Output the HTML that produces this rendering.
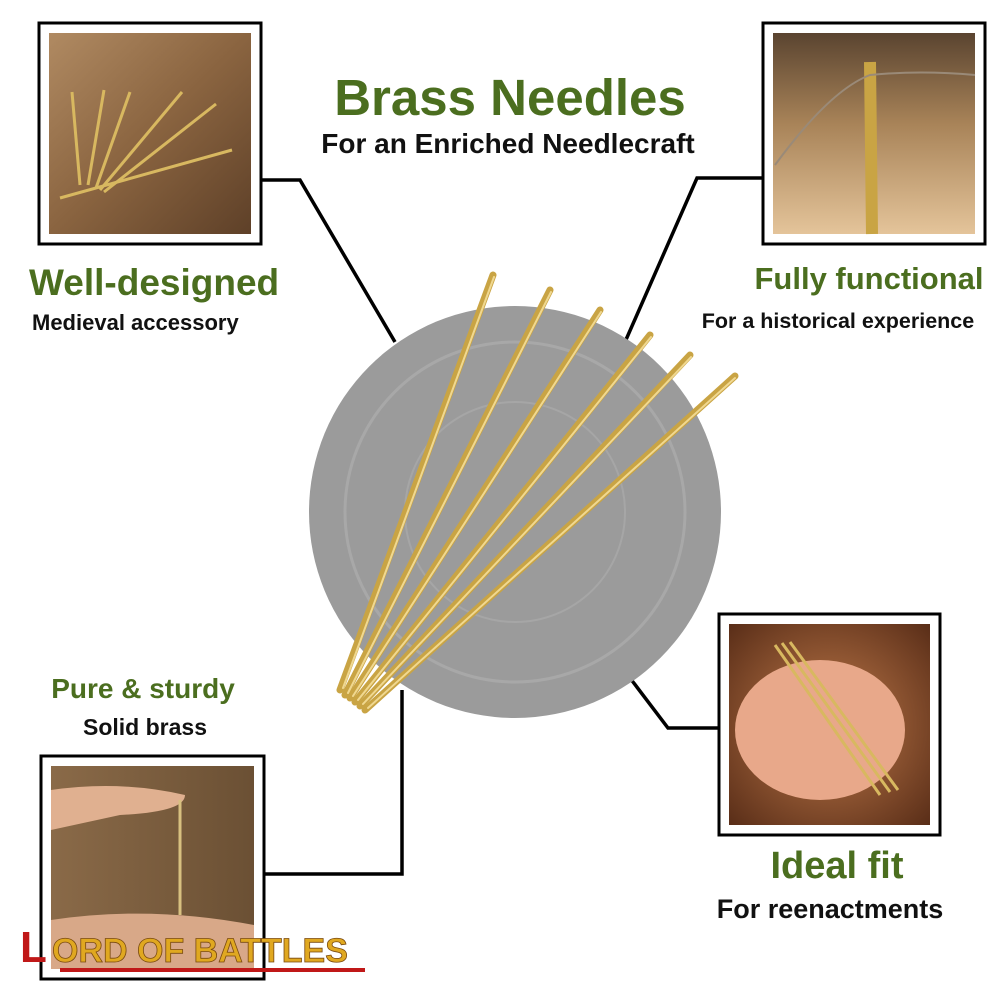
<!DOCTYPE html>
<html><head><meta charset="utf-8"><style>
html,body{margin:0;padding:0;background:#fff;}
svg{display:block;}
text{font-family:"Liberation Sans",sans-serif;font-weight:bold;}
</style></head><body>
<svg width="1000" height="1000" viewBox="0 0 1000 1000" xmlns="http://www.w3.org/2000/svg">
<defs>
<linearGradient id="p1" x1="0" y1="0" x2="1" y2="1"><stop offset="0" stop-color="#b08a62"/><stop offset="0.5" stop-color="#8a6440"/><stop offset="1" stop-color="#5e4028"/></linearGradient>
<linearGradient id="p2" x1="0" y1="0" x2="0" y2="1"><stop offset="0" stop-color="#5a4430"/><stop offset="0.45" stop-color="#a88358"/><stop offset="1" stop-color="#e4c49a"/></linearGradient>
<radialGradient id="p3" cx="0.5" cy="0.5" r="0.7"><stop offset="0" stop-color="#c07a4a"/><stop offset="1" stop-color="#5a2e18"/></radialGradient>
<linearGradient id="p4" x1="0" y1="0" x2="1" y2="0"><stop offset="0" stop-color="#8a6a48"/><stop offset="1" stop-color="#6b5034"/></linearGradient>
<linearGradient id="g" x1="0" y1="0" x2="1" y2="0"><stop offset="0" stop-color="#8a6a1a"/><stop offset="0.5" stop-color="#e0c060"/><stop offset="1" stop-color="#9a7a28"/></linearGradient>
</defs>
<!-- connectors -->
<g stroke="#000" stroke-width="3.5" fill="none">
<polyline points="262,180 300,180 395,342"/>
<polyline points="762,178 697,178 625,342"/>
<polyline points="630,678 668,728 718,728"/>
<polyline points="402,690 402,874 265,874"/>
</g>
<!-- circle -->
<circle cx="515" cy="512" r="206" fill="#9b9b9b"/>
<circle cx="515" cy="512" r="170" fill="none" stroke="#a8a8a8" stroke-width="3"/>
<circle cx="515" cy="512" r="110" fill="none" stroke="#a6a6a6" stroke-width="2"/>
<!-- needles -->
<g stroke="#c9a444" stroke-width="7" stroke-linecap="round">
<line x1="340" y1="690" x2="493" y2="275"/>
<line x1="345" y1="695" x2="550" y2="290"/>
<line x1="350" y1="698" x2="600" y2="310"/>
<line x1="355" y1="702" x2="650" y2="335"/>
<line x1="360" y1="706" x2="690" y2="355"/>
<line x1="365" y1="710" x2="735" y2="376"/>
</g>
<g stroke="#f0d890" stroke-width="2" stroke-linecap="round">
<line x1="343" y1="688" x2="494" y2="277"/>
<line x1="348" y1="693" x2="551" y2="292"/>
<line x1="353" y1="696" x2="601" y2="312"/>
<line x1="358" y1="700" x2="651" y2="337"/>
<line x1="363" y1="704" x2="691" y2="357"/>
<line x1="368" y1="708" x2="735" y2="378"/>
</g>
<!-- frames -->
<rect x="39" y="23" width="222" height="221" fill="#fff" stroke="#000" stroke-width="3"/>
<rect x="49" y="33" width="202" height="201" fill="url(#p1)"/>
<g stroke="#d8b860" stroke-width="3"><line x1="80" y1="185" x2="72" y2="92"/><line x1="88" y1="185" x2="104" y2="90"/><line x1="96" y1="188" x2="130" y2="92"/><line x1="100" y1="190" x2="182" y2="92"/><line x1="104" y1="192" x2="216" y2="104"/><line x1="60" y1="198" x2="232" y2="150"/></g>
<rect x="763" y="23" width="222" height="221" fill="#fff" stroke="#000" stroke-width="3"/>
<rect x="773" y="33" width="202" height="201" fill="url(#p2)"/>
<line x1="870" y1="62" x2="872" y2="234" stroke="#c9a444" stroke-width="12"/>
<path d="M775 165 Q830 90 870 75 Q920 70 975 75" stroke="#9a8a78" stroke-width="2" fill="none"/>
<rect x="719" y="614" width="221" height="221" fill="#fff" stroke="#000" stroke-width="3"/>
<rect x="729" y="624" width="201" height="201" fill="url(#p3)"/>
<ellipse cx="820" cy="730" rx="85" ry="70" fill="#e8a88a"/>
<g stroke="#d8b860" stroke-width="3"><line x1="775" y1="645" x2="880" y2="795"/><line x1="782" y1="643" x2="890" y2="792"/><line x1="790" y1="642" x2="898" y2="790"/></g>
<rect x="41" y="756" width="223" height="223" fill="#fff" stroke="#000" stroke-width="3"/>
<rect x="51" y="766" width="203" height="203" fill="url(#p4)"/>
<path d="M51 790 Q120 780 185 795 Q185 812 120 815 L51 830 Z" fill="#e0b090"/>
<path d="M51 920 Q150 905 254 925 L254 969 L51 969 Z" fill="#d8a888"/>
<line x1="180" y1="800" x2="180" y2="915" stroke="#d8c080" stroke-width="3"/>
<!-- texts -->
<text x="510" y="115" text-anchor="middle" font-size="51" fill="#4b6e1f">Brass Needles</text>
<text x="508" y="153" text-anchor="middle" font-size="28" fill="#111">For an Enriched Needlecraft</text>
<text x="29" y="295" font-size="37" fill="#4b6e1f">Well-designed</text>
<text x="32" y="330" font-size="22" fill="#111">Medieval accessory</text>
<text x="869" y="289" text-anchor="middle" font-size="31" fill="#4b6e1f">Fully functional</text>
<text x="838" y="328" text-anchor="middle" font-size="21.5" fill="#111">For a historical experience</text>
<text x="143" y="698" text-anchor="middle" font-size="28" fill="#4b6e1f">Pure &amp; sturdy</text>
<text x="145" y="735" text-anchor="middle" font-size="23" fill="#111">Solid brass</text>
<text x="837" y="878" text-anchor="middle" font-size="38" fill="#4b6e1f">Ideal fit</text>
<text x="830" y="918" text-anchor="middle" font-size="27" fill="#111">For reenactments</text>
<!-- logo -->
<text x="20" y="962" font-size="44" fill="#c01818" font-family="Liberation Serif">L</text>
<text x="52" y="962" font-family="Liberation Serif" font-size="34" fill="#e0a820" stroke="#7a4a10" stroke-width="0.8">ORD OF BATTLES</text>
<rect x="60" y="968" width="305" height="4" fill="#c01818"/>
</svg>
</body></html>
